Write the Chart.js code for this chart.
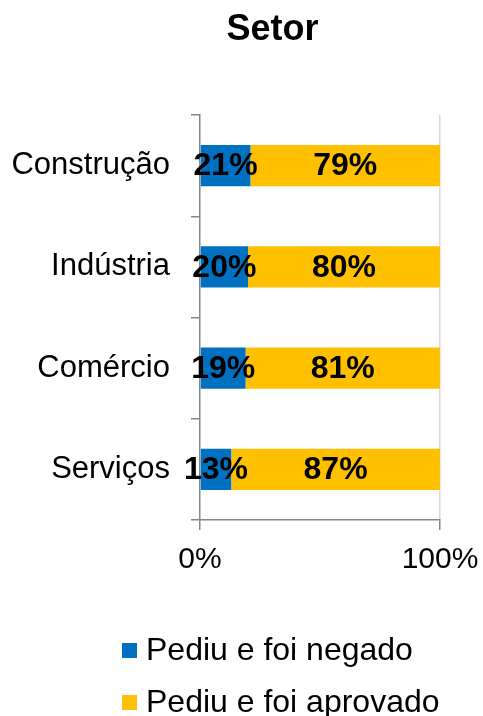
<!DOCTYPE html>
<html>
<head>
<meta charset="utf-8">
<script src="https://cdn.jsdelivr.net/npm/chart.js@4/dist/chart.umd.min.js"></script>
<style>
html,body{margin:0;padding:0;background:#fff;}
#wrap{width:483px;height:716px;position:relative;}
</style>
</head>
<body>
<div id="wrap"><canvas id="c" width="483" height="716"></canvas></div>
<script>
const chartTitle = 'Setor';
const categories = ['Construção', 'Indústria', 'Comércio', 'Serviços'];
const seriesNames = ['Pediu e foi negado', 'Pediu e foi aprovado'];
const negado = [21, 20, 19, 13];
const aprovado = [79, 80, 81, 87];
const xTicks = [0, 100];
const colors = ['#0070C0', '#FFC000'];
const FONT = '"Liberation Sans", Arial, sans-serif';

const labelPlugin = {
  id: 'labels',
  afterDatasetsDraw(chart) {
    const ctx = chart.ctx;
    ctx.save();
    ctx.font = 'bold 32px ' + FONT;
    ctx.fillStyle = '#000';
    ctx.textAlign = 'center';
    ctx.textBaseline = 'middle';
    chart.data.datasets.forEach((ds, i) => {
      const meta = chart.getDatasetMeta(i);
      meta.data.forEach((el, j) => {
        const cx = (el.x + el.base) / 2;
        ctx.fillText(ds.data[j] + '%', cx, el.y + 1);
      });
    });
    ctx.restore();
  },
  afterDraw(chart) {
    const ctx = chart.ctx;
    ctx.save();
    // title
    ctx.font = 'bold 36px ' + FONT;
    ctx.fillStyle = '#000';
    ctx.textAlign = 'center';
    ctx.textBaseline = 'middle';
    ctx.fillText(chartTitle, 272.5, 30);
    // legend
    ctx.font = '32px ' + FONT;
    ctx.textAlign = 'left';
    chart.data.datasets.forEach((ds, i) => {
      const cy = 650.5 + i * 52;
      ctx.fillStyle = ds.backgroundColor;
      ctx.fillRect(122, cy - 7.5, 15, 15);
      ctx.fillStyle = '#000';
      ctx.fillText(ds.label, 146, cy + 1);
    });
    ctx.restore();
  }
};

new Chart(document.getElementById('c'), {
  type: 'bar',
  data: {
    labels: categories,
    datasets: [
      { label: seriesNames[0], data: negado, backgroundColor: colors[0], borderWidth: 0 },
      { label: seriesNames[1], data: aprovado, backgroundColor: colors[1], borderWidth: 0 }
    ]
  },
  options: {
    indexAxis: 'y',
    responsive: false,
    animation: false,
    devicePixelRatio: 1,
    layout: { padding: { top: 115, right: 43, left: 0, bottom: 0 } },
    datasets: { bar: { categoryPercentage: 1, barPercentage: 0.405 } },
    plugins: { legend: { display: false }, title: { display: false }, tooltip: { enabled: false } },
    scales: {
      x: {
        stacked: true,
        min: 0, max: 100,
        afterFit(s) { s.height = 196; s.paddingLeft = 0; s.paddingRight = 0; },
        afterBuildTicks(s) { s.ticks = xTicks.map(v => ({ value: v })); },
        ticks: { callback: v => v + '%', font: { family: FONT, size: 30 }, color: '#000', padding: 12, maxRotation: 0, autoSkip: false },
        grid: { color: ctx => ctx.index === 0 ? 'rgba(0,0,0,0)' : '#D9D9D9', tickColor: '#868686', tickLength: 10, lineWidth: 1.5 },
        border: { color: '#868686', width: 1.5 }
      },
      y: {
        stacked: true,
        afterFit(s) { s.width = 200; s.paddingTop = 0; s.paddingBottom = 0; },
        ticks: { font: { family: FONT, size: 31 }, color: '#000', padding: 21 },
        grid: { drawOnChartArea: false, tickColor: '#868686', tickLength: 9, lineWidth: 1.5, offset: true },
        border: { color: '#868686', width: 1.5 }
      }
    }
  },
  plugins: [labelPlugin]
});
</script>
</body>
</html>
